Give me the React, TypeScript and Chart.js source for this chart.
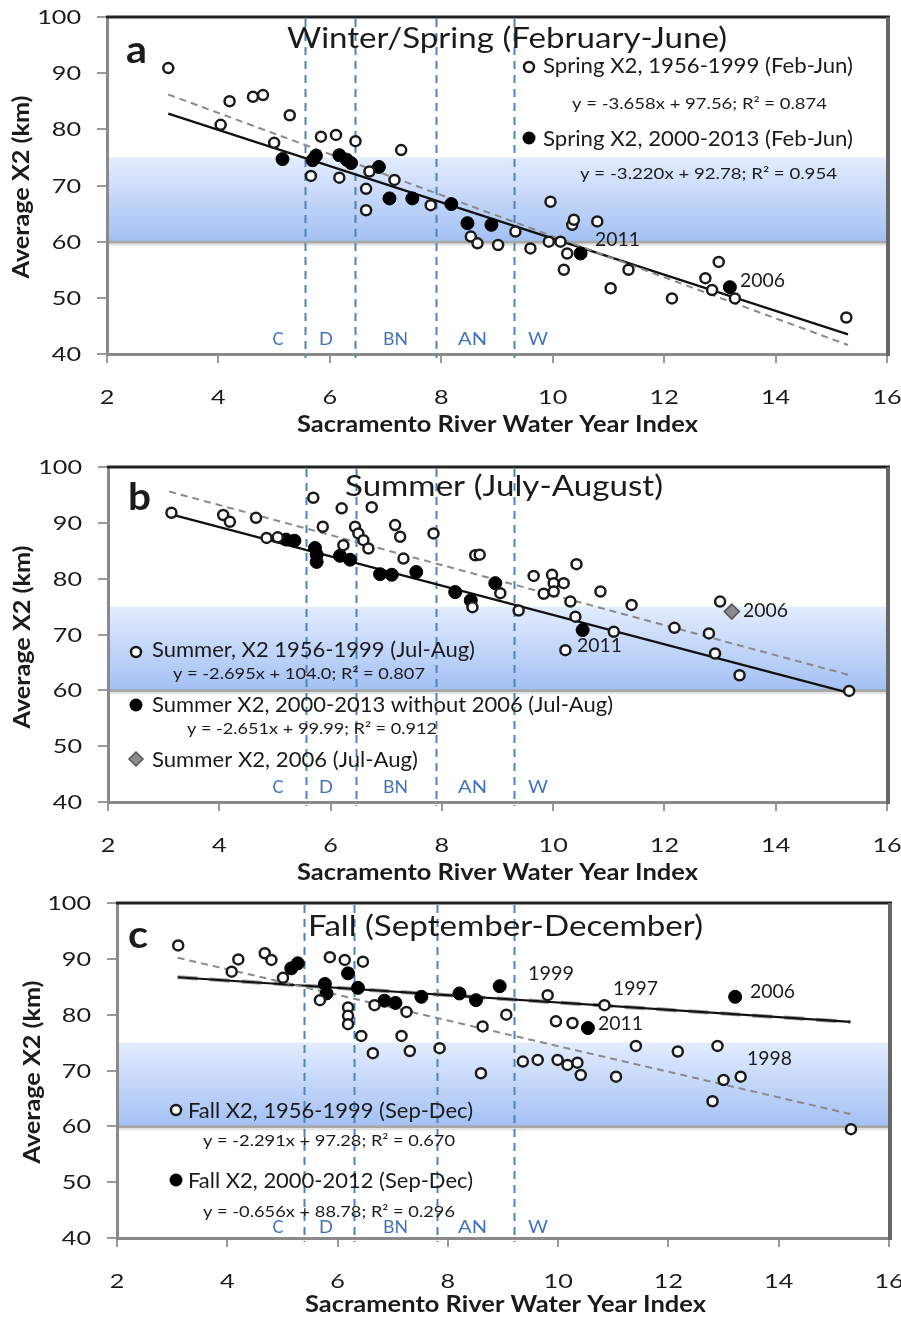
import React, { useEffect, useRef } from "react";
import { Chart, registerables } from "chart.js";

Chart.register(...registerables);

// ---------------- data ----------------
const X_MIN = 2, X_MAX = 16, X_STEP = 2;
const Y_MIN = 40, Y_MAX = 100, Y_STEP = 10;
const TARGET_ZONE = [60, 75];
const yearTypes = ["C", "D", "BN", "AN", "W"];
const yearTypeBreaksAB = [5.55, 6.45, 7.9, 9.3];
const yearTypeBreaksC = [5.4, 6.3, 7.8, 9.2];
const trendX = [3.1, 15.3];

// (a) Winter/Spring
const springOldX = [3.10, 4.04, 4.20, 4.62, 4.80, 5.00, 5.28, 5.66, 5.84, 6.11, 6.17, 6.46, 6.65, 6.65, 6.71, 7.16, 7.28, 7.81, 8.53, 8.65, 9.02, 9.33, 9.60, 9.93, 9.96, 10.14, 10.20, 10.26, 10.35, 10.38, 10.80, 11.04, 11.36, 12.14, 12.74, 12.86, 12.98, 13.27, 15.27];
const springOldY = [90.9, 80.8, 85.0, 85.8, 86.1, 77.6, 82.5, 71.7, 78.7, 79.0, 71.4, 77.9, 69.4, 65.6, 72.5, 71.0, 76.3, 66.5, 60.9, 59.7, 59.4, 61.8, 58.8, 60.0, 67.1, 60.0, 55.0, 57.9, 63.0, 63.9, 63.6, 51.7, 55.0, 49.9, 53.5, 51.4, 56.4, 49.9, 46.5];
const springNewX = [5.15, 5.69, 5.75, 6.17, 6.30, 6.38, 6.88, 7.07, 7.48, 8.18, 8.47, 8.90, 10.50, 13.18];
const springNewY = [74.7, 74.5, 75.3, 75.4, 74.6, 74.0, 73.3, 67.7, 67.7, 66.7, 63.3, 63.0, 57.9, 51.9];
const springOldTrendY = [86.2, 41.6];
const springNewTrendY = [82.8, 43.5];

// (b) Summer
const summerOldX = [3.14, 4.07, 4.19, 4.66, 4.85, 5.05, 5.69, 5.86, 6.20, 6.23, 6.44, 6.50, 6.59, 6.68, 6.74, 7.16, 7.25, 7.31, 7.85, 8.55, 8.60, 8.68, 9.05, 9.38, 9.65, 9.83, 9.98, 10.01, 10.01, 10.19, 10.22, 10.31, 10.40, 10.42, 10.85, 11.09, 11.41, 12.18, 12.80, 12.91, 13.00, 13.35, 15.32];
const summerOldY = [91.8, 91.4, 90.2, 90.9, 87.3, 87.4, 94.5, 89.3, 92.6, 86.0, 89.3, 88.1, 86.9, 85.4, 92.8, 89.6, 87.5, 83.6, 88.1, 74.9, 84.2, 84.3, 77.4, 74.3, 80.5, 77.3, 80.7, 79.2, 77.7, 79.2, 67.2, 75.9, 73.2, 82.6, 77.7, 70.5, 75.3, 71.2, 70.2, 66.6, 75.9, 62.7, 59.9];
const summerNewX = [5.20, 5.35, 5.72, 5.75, 5.75, 6.17, 6.35, 6.89, 7.10, 7.54, 8.24, 8.52, 8.96, 10.53];
const summerNewY = [87.0, 86.8, 85.5, 84.3, 83.0, 84.1, 83.4, 80.8, 80.7, 81.2, 77.6, 76.1, 79.2, 70.8];
const summer2006X = [13.21];
const summer2006Y = [74.1];
const summerOldTrendY = [95.6, 62.8];
const summerNewTrendY = [91.6, 59.6];

// (c) Fall
const fallOldX = [3.11, 4.08, 4.20, 4.68, 4.80, 5.01, 5.68, 5.86, 6.13, 6.19, 6.19, 6.19, 6.43, 6.46, 6.64, 6.67, 7.16, 7.25, 7.31, 7.85, 8.60, 8.63, 9.06, 9.36, 9.63, 9.81, 9.96, 9.99, 10.17, 10.26, 10.35, 10.41, 10.84, 11.05, 11.41, 12.17, 12.80, 12.89, 13.00, 13.31, 15.31];
const fallOldY = [92.4, 87.7, 89.9, 91.0, 89.8, 86.6, 82.6, 90.3, 89.8, 81.3, 79.8, 78.3, 76.2, 89.5, 73.1, 81.7, 76.2, 80.5, 73.5, 74.0, 69.5, 77.9, 80.0, 71.6, 71.9, 83.5, 78.8, 71.9, 71.0, 78.5, 71.4, 69.2, 81.7, 68.9, 74.4, 73.4, 64.5, 74.4, 68.3, 68.9, 59.5];
const fallNewX = [5.16, 5.28, 5.77, 5.80, 6.19, 6.37, 6.85, 7.05, 7.52, 8.21, 8.51, 8.94, 10.54, 13.21];
const fallNewY = [88.3, 89.2, 85.5, 83.8, 87.4, 84.8, 82.5, 82.1, 83.2, 83.8, 82.6, 85.1, 77.6, 83.2];
const fallOldTrendY = [90.2, 62.2];
const fallNewTrendY = [86.7, 78.7];

// text
const X_TITLE = "Sacramento River Water Year Index";
const Y_TITLE = "Average X2 (km)";

// ---------------- drawing helpers ----------------
const FONT = "Lato, 'Open Sans', sans-serif";
const TXT = "#1b1b1b";

type TextItem = {
  s: string; x: number; y: number; size: number; w?: number; sx?: number;
  bold?: boolean; align?: "left" | "center" | "right"; rot?: boolean; color?: string;
};
type MarkerItem = { kind: "open" | "filled" | "diamond"; x: number; y: number };

function drawText(ctx: CanvasRenderingContext2D, t: TextItem, dy: number) {
  ctx.save();
  ctx.font = `${t.bold ? "bold " : ""}${t.size}px ${FONT}`;
  ctx.fillStyle = t.color || TXT;
  ctx.textAlign = "left";
  ctx.textBaseline = "alphabetic";
  const m = ctx.measureText(t.s).width;
  const sx = t.w ? t.w / m : t.sx || 1;
  const width = m * sx;
  ctx.translate(t.x, t.y - dy);
  if (t.rot) ctx.rotate(-Math.PI / 2);
  const ox = t.align === "center" ? -width / 2 : t.align === "right" ? -width : 0;
  ctx.translate(ox, 0);
  ctx.scale(sx, 1);
  ctx.fillText(t.s, 0, 0);
  ctx.restore();
}

function drawMarker(ctx: CanvasRenderingContext2D, m: MarkerItem, dy: number) {
  const y = m.y - dy;
  ctx.save();
  ctx.beginPath();
  if (m.kind === "open") {
    ctx.arc(m.x, y, 5, 0, Math.PI * 2);
    ctx.fillStyle = "#fff";
    ctx.fill();
    ctx.lineWidth = 2.5;
    ctx.strokeStyle = "#1a1a1a";
    ctx.stroke();
  } else if (m.kind === "filled") {
    ctx.arc(m.x, y, 6.5, 0, Math.PI * 2);
    ctx.fillStyle = "#000";
    ctx.fill();
  } else {
    ctx.moveTo(m.x, y - 7);
    ctx.lineTo(m.x + 7, y);
    ctx.lineTo(m.x, y + 7);
    ctx.lineTo(m.x - 7, y);
    ctx.closePath();
    ctx.fillStyle = "#8c8c8c";
    ctx.fill();
    ctx.lineWidth = 1.5;
    ctx.strokeStyle = "#555";
    ctx.stroke();
  }
  ctx.restore();
}

const pts = (xs: number[], ys: number[]) => xs.map((x, i) => ({ x, y: ys[i] }));
const openDs = (xs: number[], ys: number[]) => ({
  data: pts(xs, ys), pointRadius: 5, pointBorderWidth: 2.5, pointBorderColor: "#1a1a1a",
  pointBackgroundColor: "#ffffff", showLine: false, order: 1,
});
const filledDs = (xs: number[], ys: number[]) => ({
  data: pts(xs, ys), pointRadius: 6.5, pointBorderWidth: 1, pointBorderColor: "#000",
  pointBackgroundColor: "#000", showLine: false, order: 1,
});
const diamondDs = (xs: number[], ys: number[]) => ({
  data: pts(xs, ys), pointStyle: "rectRot", pointRadius: 7.5, pointBorderWidth: 1.5,
  pointBorderColor: "#555", pointBackgroundColor: "#8c8c8c", showLine: false, order: 0,
});
const trendDs = (ys: number[], kind: "solid" | "dashed" | "greythick") => ({
  data: pts(trendX, ys), showLine: true, pointRadius: 0, fill: false,
  borderColor: kind === "solid" ? "#111" : kind === "dashed" ? "#8a8a8a" : "#9a9a9a",
  borderWidth: kind === "solid" ? 2.2 : kind === "dashed" ? 2 : 4,
  borderDash: kind === "solid" ? [] : kind === "dashed" ? [7, 5] : [20, 12],
  order: kind === "greythick" ? 4 : 3,
});

type PanelSpec = {
  top: number; height: number; left: number; right: number; plotTop: number; plotBottom: number;
  breaks: number[]; datasets: any[]; texts: TextItem[]; markers: MarkerItem[];
};

const catPos = [
  { c: 278, w: 11 }, { c: 326, w: 14 }, { c: 395.5, w: 25 }, { c: 472.5, w: 29 }, { c: 538, w: 20 },
];
function commonTexts(catY: number, xTitleX: number, xTitleY: number, yTitleX: number, yTitleY: number): TextItem[] {
  const cats: TextItem[] = yearTypes.map((s, i) => ({
    s, x: catPos[i].c, y: catY, size: 17, w: catPos[i].w, align: "center", color: "#3f74bd",
  }));
  return [
    ...cats,
    { s: X_TITLE, x: xTitleX, y: xTitleY, size: 23, bold: true, w: 401 },
    { s: Y_TITLE, x: yTitleX, y: yTitleY, size: 22, bold: true, w: 183, align: "center", rot: true },
  ];
}

const PANELS: PanelSpec[] = [
  {
    top: 0, height: 445, left: 107, right: 887, plotTop: 17, plotBottom: 354,
    breaks: yearTypeBreaksAB,
    datasets: [
      openDs(springOldX, springOldY), filledDs(springNewX, springNewY),
      trendDs(springOldTrendY, "dashed"), trendDs(springNewTrendY, "solid"),
    ],
    texts: [
      { s: "a", x: 126, y: 63, size: 38, bold: true, w: 21 },
      { s: "Winter/Spring (February-June)", x: 287, y: 48, size: 29, w: 440 },
      { s: "Spring X2, 1956-1999 (Feb-Jun)", x: 543, y: 73, size: 21, w: 310 },
      { s: "y = -3.658x + 97.56; R² = 0.874", x: 572, y: 109, size: 15, w: 255 },
      { s: "Spring X2, 2000-2013 (Feb-Jun)", x: 543, y: 146, size: 21, w: 310 },
      { s: "y = -3.220x + 92.78; R² = 0.954", x: 580, y: 179, size: 15, w: 257 },
      { s: "2011", x: 595, y: 246, size: 19, w: 45 },
      { s: "2006", x: 740, y: 287, size: 19, w: 45 },
      ...commonTexts(345, 297, 432, 29, 187),
    ],
    markers: [{ kind: "open", x: 529, y: 67 }, { kind: "filled", x: 529, y: 138 }],
  },
  {
    top: 445, height: 445, left: 108, right: 887, plotTop: 467, plotBottom: 802,
    breaks: yearTypeBreaksAB,
    datasets: [
      openDs(summerOldX, summerOldY), filledDs(summerNewX, summerNewY), diamondDs(summer2006X, summer2006Y),
      trendDs(summerOldTrendY, "dashed"), trendDs(summerNewTrendY, "solid"),
    ],
    texts: [
      { s: "b", x: 128, y: 510, size: 38, bold: true, w: 23 },
      { s: "Summer (July-August)", x: 345, y: 496, size: 29, w: 318 },
      { s: "Summer, X2 1956-1999 (Jul-Aug)", x: 152, y: 657, size: 21, w: 323 },
      { s: "y = -2.695x + 104.0; R² = 0.807", x: 173, y: 679, size: 15, w: 252 },
      { s: "Summer X2, 2000-2013 without 2006 (Jul-Aug)", x: 152, y: 712, size: 21, w: 461 },
      { s: "y = -2.651x + 99.99; R² = 0.912", x: 187, y: 734, size: 15, w: 250 },
      { s: "Summer X2, 2006 (Jul-Aug)", x: 152, y: 767, size: 21, w: 266 },
      { s: "2006", x: 743, y: 617, size: 19, w: 45 },
      { s: "2011", x: 577, y: 652, size: 19, w: 45 },
      ...commonTexts(793, 297, 880, 30, 637),
    ],
    markers: [
      { kind: "open", x: 136, y: 652 }, { kind: "filled", x: 136, y: 705 }, { kind: "diamond", x: 136, y: 759 },
    ],
  },
  {
    top: 890, height: 427, left: 117, right: 889, plotTop: 903, plotBottom: 1238,
    breaks: yearTypeBreaksC,
    datasets: [
      openDs(fallOldX, fallOldY), filledDs(fallNewX, fallNewY),
      trendDs(fallOldTrendY, "dashed"), trendDs(fallNewTrendY, "greythick"), trendDs(fallNewTrendY, "solid"),
    ],
    texts: [
      { s: "c", x: 128, y: 948, size: 38, bold: true, w: 20 },
      { s: "Fall (September-December)", x: 308, y: 936, size: 29, w: 395 },
      { s: "Fall X2, 1956-1999 (Sep-Dec)", x: 188, y: 1118, size: 21, w: 285 },
      { s: "y = -2.291x + 97.28; R² = 0.670", x: 203, y: 1146, size: 15, w: 252 },
      { s: "Fall X2, 2000-2012 (Sep-Dec)", x: 188, y: 1188, size: 21, w: 285 },
      { s: "y = -0.656x + 88.78; R² = 0.296", x: 203, y: 1217, size: 15, w: 252 },
      { s: "1999", x: 528, y: 980, size: 19, w: 46 },
      { s: "1997", x: 613, y: 995, size: 19, w: 45 },
      { s: "2006", x: 750, y: 998, size: 19, w: 45 },
      { s: "2011", x: 598, y: 1030, size: 19, w: 45 },
      { s: "1998", x: 747, y: 1065, size: 19, w: 45 },
      ...commonTexts(1233, 305, 1312, 40, 1072),
    ],
    markers: [{ kind: "open", x: 176, y: 1110 }, { kind: "filled", x: 176, y: 1180 }],
  },
];

const XH = 40;

function buildConfig(spec: PanelSpec): any {
  const dy = spec.top;
  const localTop = spec.plotTop - dy;
  const localBottom = spec.plotBottom - dy;
  const deco = {
    id: "deco",
    beforeDraw(chart: any) {
      const { ctx, chartArea: ca } = chart;
      const ys = chart.scales.y;
      ctx.save();
      ctx.fillStyle = "#fff";
      ctx.fillRect(0, 0, chart.width, chart.height);
      const yTop = ys.getPixelForValue(TARGET_ZONE[1]);
      const yBot = ys.getPixelForValue(TARGET_ZONE[0]);
      const g = ctx.createLinearGradient(0, yTop, 0, yBot);
      g.addColorStop(0, "#e3ecfd");
      g.addColorStop(1, "#a3c0f4");
      ctx.fillStyle = g;
      ctx.fillRect(ca.left, yTop, ca.right - ca.left, yBot - yTop);
      ctx.strokeStyle = "#a8a8a8";
      ctx.lineWidth = 3;
      ctx.beginPath();
      ctx.moveTo(ca.left, yBot + 0.5);
      ctx.lineTo(ca.right, yBot + 0.5);
      ctx.stroke();
      ctx.strokeStyle = "#e2e2e2";
      ctx.lineWidth = 2;
      ctx.beginPath();
      ctx.moveTo(ca.left, yBot + 3);
      ctx.lineTo(ca.right, yBot + 3);
      ctx.stroke();
      ctx.restore();
    },
    beforeDatasetsDraw(chart: any) {
      const { ctx, chartArea: ca } = chart;
      const xs = chart.scales.x;
      ctx.save();
      ctx.strokeStyle = "#4f81bd";
      ctx.lineWidth = 2;
      ctx.setLineDash([8, 6]);
      spec.breaks.forEach((b) => {
        const px = Math.round(xs.getPixelForValue(b)) + 0.5;
        ctx.beginPath();
        ctx.moveTo(px, ca.top + 2);
        ctx.lineTo(px, ca.bottom + 4);
        ctx.stroke();
      });
      ctx.setLineDash([]);
      // frame top and right
      ctx.strokeStyle = "#222";
      ctx.lineWidth = 3;
      ctx.beginPath();
      ctx.moveTo(ca.left - 1, ca.top);
      ctx.lineTo(ca.right + 3, ca.top);
      ctx.stroke();
      ctx.strokeStyle = "#666";
      ctx.lineWidth = 4;
      ctx.beginPath();
      ctx.moveTo(ca.right + 1, ca.top);
      ctx.lineTo(ca.right + 1, ca.bottom + 2);
      ctx.stroke();
      ctx.restore();
    },
    afterDatasetsDraw(chart: any) {
      const { ctx, chartArea: ca } = chart;
      const xs = chart.scales.x;
      const ys = chart.scales.y;
      ys.ticks.forEach((t: any) => {
        drawText(ctx, { s: String(t.value), x: ca.left - 26, y: ys.getPixelForValue(t.value) + 7, size: 20, sx: 1.26, align: "right" }, 0);
      });
      xs.ticks.forEach((t: any) => {
        drawText(ctx, { s: String(t.value), x: xs.getPixelForValue(t.value), y: ca.bottom + 50, size: 20, sx: 1.26, align: "center" }, 0);
      });
      spec.texts.forEach((t) => drawText(ctx, t, dy));
      spec.markers.forEach((m) => drawMarker(ctx, m, dy));
    },
  };
  return {
    type: "scatter",
    data: { datasets: spec.datasets },
    options: {
      animation: false,
      responsive: false,
      devicePixelRatio: 1,
      events: [],
      layout: {
        padding: { left: 0, right: 901 - spec.right, top: localTop, bottom: spec.height - localBottom - XH },
      },
      plugins: { legend: { display: false }, tooltip: { enabled: false }, title: { display: false } },
      scales: {
        x: {
          type: "linear", min: X_MIN, max: X_MAX,
          ticks: { stepSize: X_STEP, display: false },
          grid: { display: true, drawOnChartArea: false, drawTicks: true, tickLength: 9, color: "#9a9a9a", lineWidth: 2 },
          border: { display: true, color: "#8a8a8a", width: 3 },
          afterFit: (s: any) => { s.height = XH; },
        },
        y: {
          type: "linear", min: Y_MIN, max: Y_MAX,
          ticks: { stepSize: Y_STEP, display: false },
          grid: { display: true, drawOnChartArea: false, drawTicks: true, tickLength: 10, color: "#9a9a9a", lineWidth: 2 },
          border: { display: true, color: "#8a8a8a", width: 3 },
          afterFit: (s: any) => { s.width = spec.left; },
        },
      },
    },
    plugins: [deco],
  };
}

function Panel({ spec }: { spec: PanelSpec }) {
  const ref = useRef<HTMLCanvasElement>(null);
  useEffect(() => {
    const cv = ref.current;
    if (!cv) return;
    const chart = new Chart(cv, buildConfig(spec));
    return () => chart.destroy();
  }, [spec]);
  return (
    <canvas
      ref={ref}
      width={901}
      height={spec.height}
      style={{ position: "absolute", left: 0, top: spec.top, width: 901, height: spec.height, display: "block" }}
    />
  );
}

export default function App() {
  return (
    <div style={{ position: "absolute", left: 0, top: 0, width: 901, height: 1317, background: "#fff", overflow: "hidden" }}>
      {PANELS.map((p, i) => (
        <Panel key={i} spec={p} />
      ))}
    </div>
  );
}
